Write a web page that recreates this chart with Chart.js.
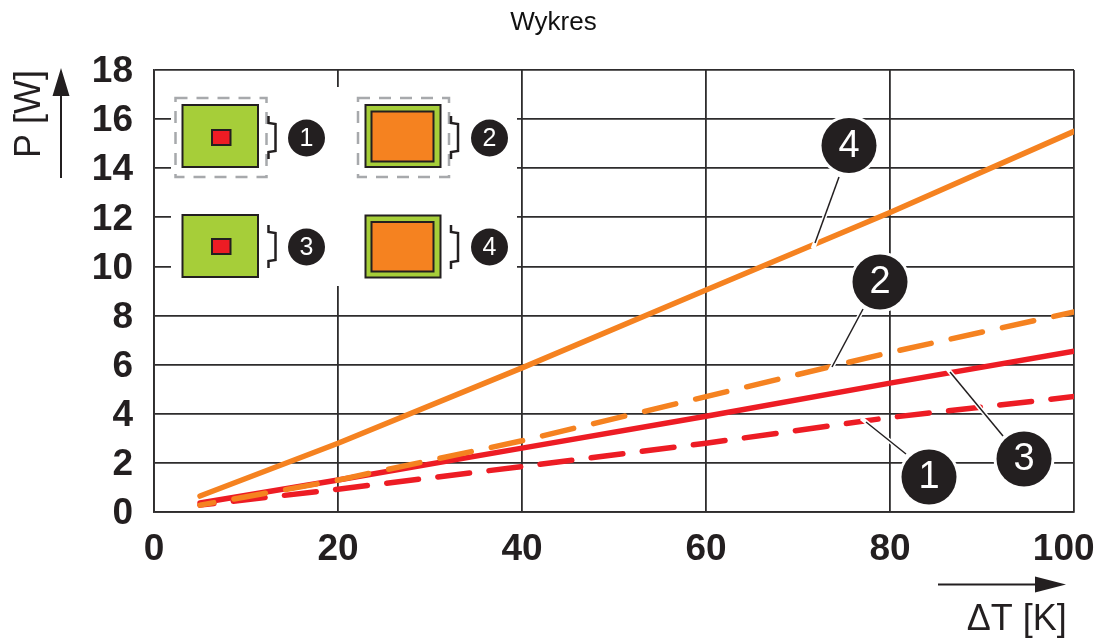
<!DOCTYPE html>
<html>
<head>
<meta charset="utf-8">
<title>Wykres</title>
<script src="https://cdn.jsdelivr.net/npm/chart.js@4"></script>
<style>
  html, body { margin: 0; padding: 0; background: #fff; }
  canvas { display: block; }
</style>
</head>
<body>
<canvas id="chart" width="1100" height="638"></canvas>
<script>
// values
const deltaT = [5, 20, 40, 60, 80, 100];
const series1 = [0.28, 0.93, 1.85, 2.8, 3.85, 4.7];
const series2 = [0.28, 1.3, 2.9, 4.7, 6.5, 8.15];
const series3 = [0.37, 1.3, 2.6, 3.9, 5.25, 6.55];
const series4 = [0.65, 2.8, 5.87, 9.04, 12.2, 15.5];

const INK = "#231f20";
const GRID = "#2e2c2d";
const RED = "#ed1c24";
const ORANGE = "#f58220";
const GREEN = "#a6ce39";
const GREY = "#a7a9ac";
const FONT = '"Liberation Sans", Arial, sans-serif';

const points = (values) => values.map((y, i) => ({ x: deltaT[i], y }));

function line(label, values, color, dash, order) {
  return {
    label,
    data: points(values),
    borderColor: color,
    borderWidth: 5.5,
    borderCapStyle: "round",
    borderJoinStyle: "round",
    borderDash: dash,
    borderDashOffset: dash.length ? 18 : 0,
    pointRadius: 0,
    tension: 0,
    order,
  };
}

function badge(ctx, x, y, r, text, size, halo) {
  if (halo) {
    ctx.fillStyle = "#fff";
    ctx.beginPath();
    ctx.arc(x, y, r + halo, 0, Math.PI * 2);
    ctx.fill();
  }
  ctx.fillStyle = INK;
  ctx.beginPath();
  ctx.arc(x, y, r, 0, Math.PI * 2);
  ctx.fill();
  ctx.fillStyle = "#fff";
  ctx.font = `${size}px ${FONT}`;
  ctx.textAlign = "center";
  ctx.textBaseline = "middle";
  ctx.fillText(text, x, y + 1);
}

function bracket(ctx, x, top, bottom) {
  const mid1 = top + 7;
  const mid2 = bottom - 7;
  ctx.strokeStyle = INK;
  ctx.lineWidth = 2.5;
  ctx.setLineDash([]);
  ctx.beginPath();
  ctx.moveTo(x, top);
  ctx.lineTo(x, mid1);
  ctx.lineTo(x + 7, mid1 + 1);
  ctx.lineTo(x + 7, mid2 - 1);
  ctx.lineTo(x, mid2);
  ctx.lineTo(x, bottom);
  ctx.stroke();
}

function tile(ctx, x, y, w, h, inner, innerColor) {
  ctx.setLineDash([]);
  ctx.strokeStyle = INK;
  ctx.lineWidth = 2;
  ctx.fillStyle = GREEN;
  ctx.fillRect(x, y, w, h);
  ctx.strokeRect(x, y, w, h);
  ctx.fillStyle = innerColor;
  ctx.fillRect(inner[0], inner[1], inner[2], inner[3]);
  ctx.strokeRect(inner[0], inner[1], inner[2], inner[3]);
}

function dashedFrame(ctx, x, y, w, h) {
  ctx.strokeStyle = GREY;
  ctx.lineWidth = 2.5;
  ctx.setLineDash([12, 9]);
  ctx.strokeRect(x, y, w, h);
  ctx.setLineDash([]);
}

// key with the four cases, sits on a white patch that cuts the grid
const insetPlugin = {
  id: "inset",
  beforeDatasetsDraw(chart) {
    const { ctx } = chart;
    ctx.save();
    ctx.fillStyle = "#fff";
    ctx.fillRect(171, 87, 346, 199);

    dashedFrame(ctx, 175.5, 98, 91, 79);
    dashedFrame(ctx, 358, 98, 91, 79);

    tile(ctx, 182.5, 105, 75.5, 62, [212, 130, 18.5, 15], RED);
    tile(ctx, 365.5, 105, 75, 62, [371.5, 111.5, 62, 50], ORANGE);
    tile(ctx, 182.5, 215, 75.5, 62, [212, 239, 18.5, 15], RED);
    tile(ctx, 365.5, 215.5, 75, 62, [371.5, 222, 62, 49.5], ORANGE);

    bracket(ctx, 268.5, 116, 159);
    bracket(ctx, 451, 116, 159);
    bracket(ctx, 268.5, 225, 268);
    bracket(ctx, 451, 225, 269);

    badge(ctx, 306.5, 138, 18.5, "1", 25);
    badge(ctx, 489.5, 138, 18.5, "2", 25);
    badge(ctx, 306.5, 247, 18.5, "3", 25);
    badge(ctx, 489.5, 247, 18.5, "4", 25);
    ctx.restore();
  },
};

// numbered callouts and the two axis arrows
const calloutPlugin = {
  id: "callouts",
  afterDatasetsDraw(chart) {
    const { ctx } = chart;
    const callouts = [
      { n: "4", x: 849, y: 145.5, from: [815, 243], to: [839, 177] },
      { n: "2", x: 880, y: 282, from: [832, 367], to: [863, 309] },
      { n: "3", x: 1024, y: 459, from: [950, 372], to: [1003, 436] },
      { n: "1", x: 929, y: 477, from: [866, 422], to: [906, 454] },
    ];
    ctx.save();
    ctx.lineCap = "butt";
    callouts.forEach((c) => {
      // white notch where the leader meets its line
      const dx = c.from[0] - c.to[0];
      const dy = c.from[1] - c.to[1];
      const len = Math.hypot(dx, dy);
      ctx.strokeStyle = "#fff";
      ctx.lineWidth = 4.5;
      ctx.beginPath();
      ctx.moveTo(c.from[0] + (dx / len) * 6, c.from[1] + (dy / len) * 6);
      ctx.lineTo(c.to[0], c.to[1]);
      ctx.stroke();
      ctx.strokeStyle = INK;
      ctx.lineWidth = 1.5;
      ctx.beginPath();
      ctx.moveTo(c.from[0], c.from[1]);
      ctx.lineTo(c.to[0], c.to[1]);
      ctx.stroke();
    });
    callouts.forEach((c) => badge(ctx, c.x, c.y, 27.5, c.n, 38, 3));

    ctx.strokeStyle = INK;
    ctx.fillStyle = INK;
    ctx.lineWidth = 2;
    ctx.beginPath();
    ctx.moveTo(61, 178);
    ctx.lineTo(61, 90);
    ctx.moveTo(938, 584.5);
    ctx.lineTo(1040, 584.5);
    ctx.stroke();
    ctx.beginPath();
    ctx.moveTo(61, 68);
    ctx.lineTo(52.5, 96);
    ctx.lineTo(69.5, 96);
    ctx.closePath();
    ctx.moveTo(1066, 584.5);
    ctx.lineTo(1035, 576.5);
    ctx.lineTo(1035, 592.5);
    ctx.closePath();
    ctx.fill();
    ctx.restore();
  },
};

function fixScale(size, key, right) {
  return (scale) => {
    scale[key] = size;
    scale.paddingLeft = 0;
    scale.paddingRight = right || 0;
    scale.paddingTop = 0;
    scale.paddingBottom = 0;
  };
}

const tickFont = { family: FONT, size: 37, weight: "bold" };
const axisTitleFont = { family: FONT, size: 36, lineHeight: 1 };

new Chart(document.getElementById("chart"), {
  type: "line",
  data: {
    datasets: [
      line("1", series1, RED, [32, 19.5], 4),
      line("3", series3, RED, [], 3),
      line("2", series2, ORANGE, [32, 20.5], 2),
      line("4", series4, ORANGE, [], 1),
    ],
  },
  plugins: [insetPlugin, calloutPlugin],
  options: {
    responsive: false,
    animation: false,
    devicePixelRatio: 1,
    layout: { padding: { left: 7 } },
    plugins: {
      legend: { display: false },
      tooltip: { enabled: false },
      title: {
        display: true,
        text: "Wykres",
        color: "#111",
        font: { family: FONT, size: 26, weight: "normal", lineHeight: 1.2 },
        padding: { top: 7, bottom: 31.8 },
      },
    },
    scales: {
      x: {
        type: "linear",
        min: 0,
        max: 100,
        afterFit: fixScale(126, "height", 26),
        grid: { color: GRID, lineWidth: 1.8, drawTicks: false },
        border: { color: GRID, width: 1.8 },
        ticks: {
          stepSize: 20,
          color: INK,
          font: tickFont,
          padding: 16,
          maxRotation: 0,
          autoSkip: false,
          // the 100 stays inside the page in the reference
          callback: (v) => (v === 100 ? "100\u00a0\u00a0" : String(v)),
        },
        title: {
          display: true,
          text: "\u0394T [K]\u2009",
          align: "end",
          color: INK,
          font: axisTitleFont,
          padding: { top: 0, bottom: 0 },
        },
      },
      y: {
        min: 0,
        max: 18,
        afterFit: fixScale(147, "width"),
        grid: { color: GRID, lineWidth: 1.8, drawTicks: false },
        border: { color: GRID, width: 1.8 },
        ticks: {
          stepSize: 2,
          color: INK,
          font: tickFont,
          padding: 21,
          labelOffset: 2,
          autoSkip: false,
        },
        title: {
          display: true,
          text: "P [W]",
          align: "end",
          color: INK,
          font: axisTitleFont,
          padding: { top: 5, bottom: 0 },
        },
      },
    },
  },
});
</script>
</body>
</html>
